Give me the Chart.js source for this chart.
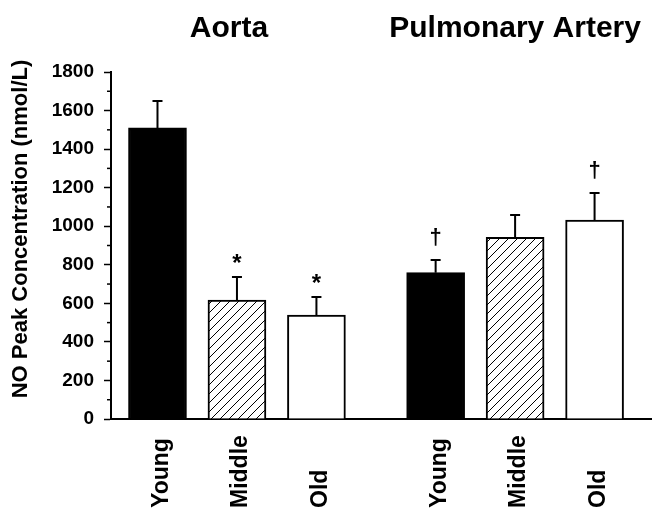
<!DOCTYPE html>
<html>
<head>
<meta charset="utf-8">
<script src="https://cdn.jsdelivr.net/npm/chart.js@4.4.1/dist/chart.umd.min.js"></script>
<style>
html,body{margin:0;padding:0;background:#fff}
#wrap{width:652px;height:510px}
</style>
</head>
<body>
<div id="wrap"><canvas id="c" width="652" height="510"></canvas></div>
<script>
// values
const labels=["Young","Middle","Old","Young","Middle","Old"];
const groupOf=[0,0,0,1,1,1];
const groupTitles=["Aorta","Pulmonary Artery"];
const peak=[1510,617,539,759,942,1032];
const sem=[140,119,94,66,116,140];
const marks=["","*","*","\u2020","","\u2020"];
const yTicks=[0,200,400,600,800,1000,1200,1400,1600,1800];

const FONT="'Liberation Sans', Arial, sans-serif";

function hatch(){
 const s=9;
 const cv=document.createElement("canvas");
 cv.width=s;cv.height=s;
 const g=cv.getContext("2d");
 g.fillStyle="#fff";g.fillRect(0,0,s,s);
 g.strokeStyle="#000";g.lineWidth=1;
 g.beginPath();
 g.moveTo(-1,s+1);g.lineTo(s+1,-1);
 g.moveTo(-1,1);g.lineTo(1,-1);
 g.moveTo(s-1,s+1);g.lineTo(s+1,s-1);
 g.stroke();
 return g.createPattern(cv,"repeat");
}

const fills=["#000",hatch(),"#fff"];
// slot on the x scale: half a slot of space between the two groups
const pts=peak.map((v,i)=>({x:i+1+groupOf[i]*0.5,y:v}));

const extras={
 id:"extras",
 afterDatasetsDraw(chart){
   const ctx=chart.ctx,xs=chart.scales.x,ys=chart.scales.y;
   ctx.save();
   ctx.strokeStyle="#000";ctx.lineWidth=2;
   pts.forEach((p,i)=>{
     const x=xs.getPixelForValue(p.x);
     const y0=ys.getPixelForValue(p.y);
     const y1=ys.getPixelForValue(p.y+sem[i]);
     ctx.beginPath();
     ctx.moveTo(x,y0);ctx.lineTo(x,y1);
     ctx.moveTo(x-5,y1);ctx.lineTo(x+5,y1);
     ctx.stroke();
     if(marks[i]){
       ctx.fillStyle="#000";
       ctx.textAlign="center";
       ctx.textBaseline="middle";
       if(marks[i]==="*"){
         ctx.font="bold 24px "+FONT;
         ctx.fillText("*",x,y1-13);
       }else{
         ctx.font="bold 22px "+FONT;
         ctx.fillText(marks[i],x,y1-22);
       }
     }
   });
   ctx.restore();
 },
 afterDraw(chart){
   const ctx=chart.ctx,xs=chart.scales.x,ys=chart.scales.y;
   ctx.save();
   ctx.fillStyle="#000";
   ctx.strokeStyle="#000";
   // minor ticks
   ctx.lineWidth=1.5;
   for(let k=0;k<yTicks.length-1;k++){
     const y=ys.getPixelForValue((yTicks[k]+yTicks[k+1])/2);
     ctx.beginPath();
     ctx.moveTo(chart.chartArea.left-4,y);
     ctx.lineTo(chart.chartArea.left,y);
     ctx.stroke();
   }
   // category labels, rotated, reading bottom to top
   ctx.font="bold 23px "+FONT;
   ctx.textAlign="left";
   ctx.textBaseline="middle";
   pts.forEach((p,i)=>{
     const x=xs.getPixelForValue(p.x);
     ctx.save();
     ctx.translate(x+4,508);
     ctx.rotate(-Math.PI/2);
     ctx.fillText(labels[i],0,0);
     ctx.restore();
   });
   // group titles
   ctx.font="bold 30px "+FONT;
   ctx.textAlign="center";
   ctx.textBaseline="alphabetic";
   groupTitles.forEach((t,g)=>{
     const xsIn=pts.filter((p,i)=>groupOf[i]===g).map(p=>xs.getPixelForValue(p.x));
     const cx=(Math.min(...xsIn)+Math.max(...xsIn))/2;
     ctx.fillText(t,cx+(g===0?-8:0),37);
   });
   // y title
   ctx.font="bold 22px "+FONT;
   ctx.textBaseline="middle";
   ctx.save();
   ctx.translate(21,229);
   ctx.rotate(-Math.PI/2);
   ctx.fillText("NO Peak Concentration (nmol/L)",0,0);
   ctx.restore();
   ctx.restore();
 }
};

Chart.defaults.font.family=FONT;
Chart.defaults.color="#000";

new Chart(document.getElementById("c"),{
 type:"bar",
 data:{
   datasets:[{
     data:pts,
     backgroundColor:pts.map((p,i)=>fills[i%3]),
     borderColor:"#000",
     borderWidth:2,
     borderSkipped:"bottom",
     barThickness:58
   }]
 },
 options:{
   responsive:false,
   animation:false,
   devicePixelRatio:1,
   layout:{padding:{top:72,right:1,left:0,bottom:0}},
   plugins:{legend:{display:false},tooltip:{enabled:false}},
   scales:{
     x:{
       type:"linear",
       offset:false,
       min:0.415,
       max:7.21,
       grid:{display:false},
       border:{display:true,color:"#000",width:2},
       ticks:{display:false},
       afterFit(s){s.height=91;}
     },
     y:{
       min:0,
       max:1800,
       afterBuildTicks(s){s.ticks=yTicks.map(v=>({value:v}));},
       ticks:{
         font:{size:19,weight:"bold"},
         padding:10,
         color:"#000",
         callback:v=>String(v)
       },
       grid:{display:true,drawOnChartArea:false,drawTicks:true,tickLength:7,color:"#000",tickWidth:1.5},
       border:{display:true,color:"#000",width:2},
       afterFit(s){s.width=111;}
     }
   }
 },
 plugins:[extras]
});
</script>
</body>
</html>
